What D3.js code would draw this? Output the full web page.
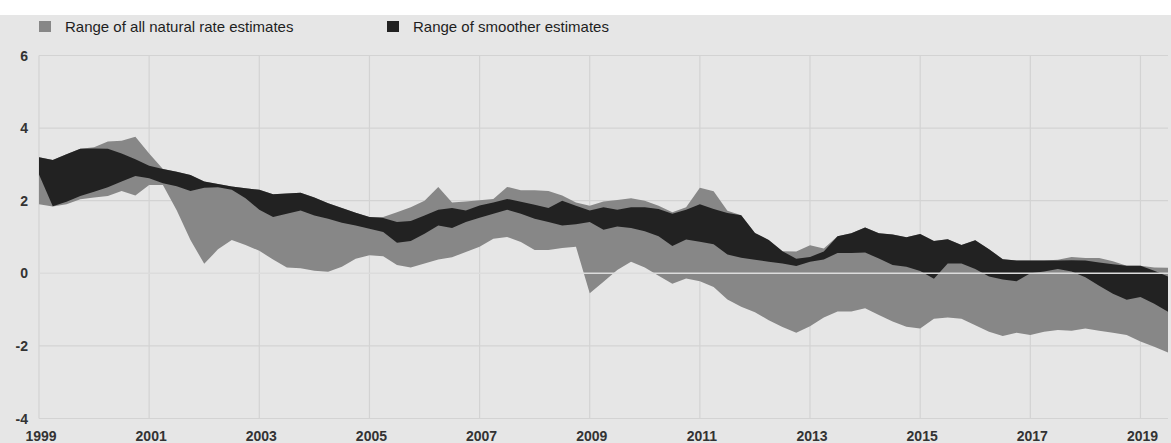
<!DOCTYPE html>
<html>
<head>
<meta charset="utf-8">
<script src="https://cdn.jsdelivr.net/npm/d3@7"></script>
<style>
  body { margin: 0; background: #ffffff; }
  text { font-family: "Liberation Sans Narrow", "Arial Narrow", "Liberation Sans", sans-serif; fill: #262626; }
</style>
</head>
<body>
<div id="chart"></div>
<script>
// quarterly observations, 1999Q1 .. 2019Q3
var startYear = 1999;
var nQuarters = 83;

// range of all natural rate estimates (low / high)
var allLow = [1.90, 1.84, 1.90, 2.04, 2.09, 2.13, 2.27, 2.14, 2.43, 2.43,
  1.74, 0.92, 0.26, 0.66, 0.92, 0.78, 0.62, 0.38, 0.16, 0.14,
  0.07, 0.04, 0.18, 0.40, 0.50, 0.47, 0.23, 0.16, 0.27, 0.38,
  0.44, 0.59, 0.73, 0.95, 1.00, 0.86, 0.64, 0.64, 0.70, 0.73,
  -0.55, -0.23, 0.09, 0.32, 0.16, -0.07, -0.29, -0.14, -0.22, -0.38,
  -0.72, -0.92, -1.07, -1.29, -1.48, -1.64, -1.46, -1.22, -1.05, -1.05,
  -0.96, -1.15, -1.33, -1.47, -1.52, -1.25, -1.22, -1.25, -1.43, -1.61,
  -1.73, -1.64, -1.70, -1.61, -1.56, -1.58, -1.52, -1.58, -1.64, -1.70,
  -1.88, -2.02, -2.18];
var allHigh = [3.20, 3.12, 3.28, 3.43, 3.47, 3.63, 3.65, 3.76, 3.30, 2.87,
  2.80, 2.71, 2.53, 2.46, 2.39, 2.34, 2.30, 2.18, 2.20, 2.22,
  2.09, 1.93, 1.80, 1.67, 1.55, 1.55, 1.68, 1.82, 2.00, 2.38,
  1.95, 1.98, 2.01, 2.05, 2.38, 2.29, 2.29, 2.27, 2.14, 1.95,
  1.86, 1.98, 2.02, 2.07, 2.00, 1.86, 1.68, 1.82, 2.36, 2.26,
  1.72, 1.60, 1.11, 0.92, 0.61, 0.60, 0.77, 0.68, 1.02, 1.10,
  1.26, 1.10, 1.07, 0.99, 1.08, 0.89, 0.94, 0.78, 0.91, 0.66,
  0.39, 0.35, 0.35, 0.35, 0.37, 0.45, 0.42, 0.42, 0.33, 0.21,
  0.21, 0.16, 0.15];

// range of smoother estimates (low / high)
var smoothLow = [2.72, 1.85, 1.97, 2.13, 2.25, 2.37, 2.53, 2.68, 2.62, 2.48,
  2.40, 2.27, 2.36, 2.37, 2.30, 2.07, 1.75, 1.55, 1.64, 1.73,
  1.59, 1.50, 1.39, 1.32, 1.23, 1.14, 0.84, 0.89, 1.09, 1.32,
  1.25, 1.41, 1.53, 1.64, 1.75, 1.64, 1.50, 1.41, 1.32, 1.35,
  1.41, 1.20, 1.29, 1.25, 1.16, 1.02, 0.75, 0.93, 0.87, 0.80,
  0.52, 0.43, 0.37, 0.32, 0.27, 0.20, 0.32, 0.38, 0.56, 0.56,
  0.57, 0.41, 0.23, 0.18, 0.06, -0.15, 0.27, 0.27, 0.12, -0.09,
  -0.17, -0.22, 0.00, 0.05, 0.12, 0.05, -0.11, -0.34, -0.56, -0.73,
  -0.65, -0.84, -1.06];
var smoothHigh = [3.20, 3.12, 3.28, 3.43, 3.44, 3.43, 3.30, 3.14, 2.96, 2.87,
  2.80, 2.71, 2.53, 2.46, 2.39, 2.34, 2.30, 2.18, 2.20, 2.22,
  2.09, 1.93, 1.80, 1.67, 1.55, 1.52, 1.41, 1.44, 1.59, 1.75,
  1.80, 1.73, 1.87, 1.95, 2.05, 1.97, 1.89, 1.80, 2.00, 1.86,
  1.73, 1.82, 1.75, 1.82, 1.82, 1.77, 1.64, 1.75, 1.90, 1.77,
  1.66, 1.60, 1.11, 0.92, 0.61, 0.40, 0.45, 0.60, 1.02, 1.10,
  1.26, 1.10, 1.07, 0.99, 1.08, 0.89, 0.94, 0.78, 0.91, 0.66,
  0.39, 0.35, 0.35, 0.35, 0.35, 0.36, 0.35, 0.30, 0.25, 0.21,
  0.21, 0.07, -0.09];

var yearTicks = [1999, 2001, 2003, 2005, 2007, 2009, 2011, 2013, 2015, 2017, 2019];
var valueTicks = [-4, -2, 0, 2, 4, 6];
var legendLabels = ["Range of all natural rate estimates", "Range of smoother estimates"];

var svgWidth = 1171;
var svgHeight = 443;
var margin = {top: 55.5, right: 3, bottom: 24.5, left: 39};

var svg = d3.select("#chart")
  .append("svg")
  .attr("width", svgWidth)
  .attr("height", svgHeight);

// page background (white strip on top, light grey panel)
svg.append("rect").attr("width", svgWidth).attr("height", svgHeight).attr("fill", "#ffffff");
svg.append("rect").attr("y", 15).attr("width", svgWidth).attr("height", svgHeight - 15).attr("fill", "#e6e6e6");

var quarters = d3.range(nQuarters).map(function(i) { return startYear + i / 4; });
var data = quarters.map(function(t, i) {
  return {t: t, aLo: allLow[i], aHi: allHigh[i], sLo: smoothLow[i], sHi: smoothHigh[i]};
});

var x = d3.scaleLinear()
  .domain([1999, 2019.5])
  .range([margin.left, svgWidth - margin.right]);
var y = d3.scaleLinear()
  .domain([-4, 6])
  .range([svgHeight - margin.bottom, margin.top]);

// grid
svg.append("g").selectAll("line")
  .data(valueTicks.filter(function(v) { return v !== 0; }))
  .enter().append("line")
  .attr("x1", x(1999)).attr("x2", x(2019.5))
  .attr("y1", function(d) { return y(d); }).attr("y2", function(d) { return y(d); })
  .attr("stroke", "#d3d3d3").attr("stroke-width", 1.2);

svg.append("g").selectAll("line")
  .data(yearTicks)
  .enter().append("line")
  .attr("x1", function(d) { return x(d); }).attr("x2", function(d) { return x(d); })
  .attr("y1", y(6)).attr("y2", y(-4))
  .attr("stroke", "#d3d3d3").attr("stroke-width", 1.2);

// bands
var allArea = d3.area()
  .x(function(d) { return x(d.t); })
  .y0(function(d) { return y(d.aLo); })
  .y1(function(d) { return y(d.aHi); });
var smoothArea = d3.area()
  .x(function(d) { return x(d.t); })
  .y0(function(d) { return y(d.sLo); })
  .y1(function(d) { return y(d.sHi); });

svg.append("path").datum(data).attr("d", allArea).attr("fill", "#878787");
svg.append("path").datum(data).attr("d", smoothArea).attr("fill", "#222222");

// zero line over the bands
svg.append("line")
  .attr("x1", x(1999)).attr("x2", x(2019.5))
  .attr("y1", y(0)).attr("y2", y(0))
  .attr("stroke", "#dcdcdc").attr("stroke-width", 1.5);

// axis labels
svg.append("g").selectAll("text")
  .data(valueTicks)
  .enter().append("text")
  .attr("x", 28)
  .attr("y", function(d) { return y(d) + 5; })
  .attr("text-anchor", "end")
  .style("font-size", "14px")
  .style("font-weight", "bold")
  .style("fill", "#333")
  .text(function(d) { return d; });

svg.append("g").selectAll("text")
  .data(yearTicks)
  .enter().append("text")
  .attr("x", function(d) { return x(d) + 2; })
  .attr("y", 441)
  .attr("text-anchor", "middle")
  .style("font-size", "14px")
  .style("font-weight", "bold")
  .style("fill", "#333")
  .text(function(d) { return d; });

// legend
var legendColors = ["#878787", "#222222"];
var legendX = [39, 387];
var legend = svg.append("g").selectAll("g")
  .data(legendLabels)
  .enter().append("g")
  .attr("transform", function(d, i) { return "translate(" + legendX[i] + ",21)"; });
legend.append("rect").attr("width", 12).attr("height", 11)
  .attr("fill", function(d, i) { return legendColors[i]; });
legend.append("text").attr("x", 26).attr("y", 11)
  .style("font-size", "15px")
  .style("fill", "#1e1e1e")
  .text(function(d) { return d; });
</script>
</body>
</html>
